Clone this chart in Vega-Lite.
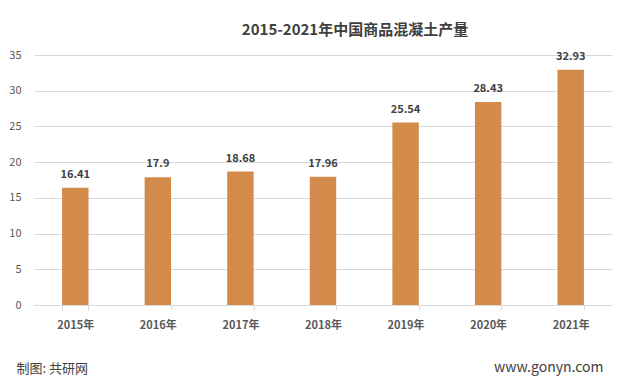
{
  "$schema": "https://vega.github.io/schema/vega-lite/v6.json",
  "width": 578,
  "height": 250,
  "autosize": {"type": "none"},
  "padding": {"left": 34, "top": 55, "right": 11, "bottom": 83},
  "background": "white",
  "config": {
    "font": "Noto Sans CJK SC",
    "view": {"stroke": null}
  },
  "title": {
    "text": "2015-2021年中国商品混凝土产量",
    "fontSize": 15,
    "fontWeight": "bold",
    "color": "#404040",
    "anchor": "middle",
    "offset": 11,
    "dx": 32
  },
  "data": {
    "values": [
      {"year": "2015年", "value": 16.41},
      {"year": "2016年", "value": 17.9},
      {"year": "2017年", "value": 18.68},
      {"year": "2018年", "value": 17.96},
      {"year": "2019年", "value": 25.54},
      {"year": "2020年", "value": 28.43},
      {"year": "2021年", "value": 32.93}
    ]
  },
  "encoding": {
    "x": {
      "field": "year",
      "type": "nominal",
      "sort": null,
      "scale": {"paddingInner": 0.68, "paddingOuter": 0.34},
      "axis": {
        "title": "制图: 共研网",
        "titleX": -18,
        "titleY": 63,
        "titleAlign": "left",
        "titleAnchor": "start",
        "titleBaseline": "middle",
        "titleFontSize": 13,
        "titleFontWeight": "normal",
        "titleColor": "#404040",
        "labelAngle": 0,
        "labelFontSize": 11,
        "labelFontWeight": "bold",
        "labelColor": "#595959",
        "labelPadding": 9,
        "domainColor": "#d9d9d9",
        "tickColor": "#d9d9d9",
        "tickBand": "extent",
        "tickSize": 5
      }
    }
  },
  "layer": [
    {
      "mark": {"type": "bar", "color": "#D38B4B"},
      "encoding": {
        "y": {
          "field": "value",
          "type": "quantitative",
          "scale": {"domain": [0, 35]},
          "axis": {
            "title": null,
            "values": [0, 5, 10, 15, 20, 25, 30, 35],
            "labelFontSize": 11,
            "labelColor": "#595959",
            "labelPadding": 13,
            "ticks": false,
            "domain": false,
            "gridColor": "#d9d9d9"
          }
        }
      }
    },
    {
      "mark": {"type": "text", "dy": -8, "baseline": "bottom", "fontSize": 11, "fontWeight": "bold", "color": "#404040"},
      "encoding": {
        "y": {"field": "value", "type": "quantitative", "scale": {"domain": [0, 35]},
          "axis": {
            "orient": "right",
            "title": "www.gonyn.com",
            "titleAngle": 0,
            "titleX": -9,
            "titleY": 312,
            "titleAlign": "right",
            "titleBaseline": "middle",
            "titleFontSize": 14,
            "titleFontWeight": "normal",
            "titleColor": "#404040",
            "labels": false,
            "ticks": false,
            "domain": false,
            "grid": false
          }
        },
        "text": {"field": "value", "type": "quantitative"}
      }
    }
  ],
  "resolve": {"axis": {"y": "independent"}}
}
